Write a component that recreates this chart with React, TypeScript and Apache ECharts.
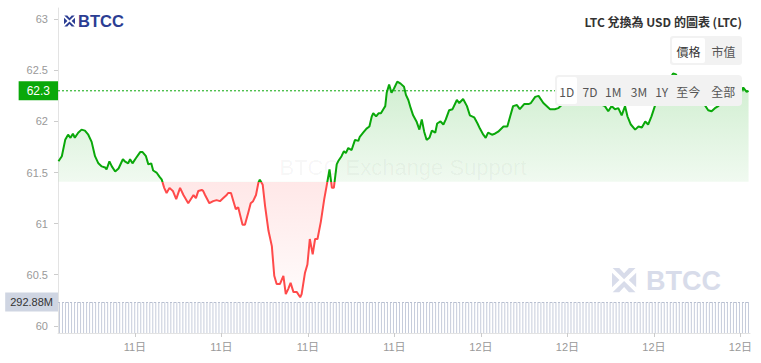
import React, { useEffect, useRef } from "react";
import * as echarts from "echarts";

// minutes since 00:00 on the 11th
const times = [
  561, 568, 575, 581, 586, 591, 595, 602, 609, 616,
  623, 630, 637, 644, 651, 658, 661, 667, 672, 679,
  686, 695, 699, 706, 710, 715, 722, 731, 736, 743,
  748, 754, 758, 765, 771, 776, 781, 786, 792, 799,
  806, 814, 821, 831, 842, 847, 852, 859, 862, 866,
  875, 883, 890, 897, 904, 911, 914, 920, 925, 930,
  935, 944, 949, 956, 961, 966, 972, 977, 980, 986,
  991, 998, 1005, 1010, 1015, 1022, 1029, 1034, 1039, 1044,
  1050, 1057, 1064, 1067, 1074, 1079, 1084, 1090, 1095, 1100,
  1107, 1114, 1119, 1125, 1130, 1134, 1140, 1143, 1150, 1155,
  1159, 1164, 1171, 1178, 1185, 1188, 1195, 1202, 1208, 1213,
  1216, 1222, 1227, 1232, 1237, 1241, 1244, 1249, 1254, 1259,
  1266, 1273, 1280, 1284, 1289, 1294, 1299, 1306, 1312, 1317,
  1322, 1327, 1333, 1338, 1345, 1349, 1356, 1362, 1367, 1374,
  1381, 1390, 1395, 1403, 1411, 1417, 1426, 1433, 1438, 1445,
  1450, 1455, 1463, 1469, 1476, 1487, 1495, 1501, 1507, 1515,
  1521, 1530, 1539, 1544, 1553, 1560, 1570, 1584, 1594, 1601,
  1608, 1615, 1630, 1646, 1663, 1677, 1688, 1698, 1705, 1712,
  1719, 1726, 1733, 1740, 1745, 1752, 1761, 1768, 1775, 1782,
  1788, 1795, 1802, 1813, 1823, 1834, 1840, 1846, 1854, 1867,
  1879, 1892, 1900, 1906, 1913, 1920, 1927, 1934, 1946, 1958,
  1971, 1979, 1986, 1993, 1997,
];

const prices = [
  61.61, 61.66, 61.82, 61.87, 61.84, 61.88, 61.84, 61.89, 61.92, 61.91,
  61.87, 61.80, 61.66, 61.59, 61.56, 61.55, 61.53, 61.61, 61.56, 61.51,
  61.54, 61.63, 61.61, 61.59, 61.63, 61.59, 61.64, 61.70, 61.70, 61.66,
  61.58, 61.59, 61.52, 61.50, 61.46, 61.43, 61.35, 61.30, 61.35, 61.32,
  61.24, 61.35, 61.28, 61.20, 61.28, 61.25, 61.32, 61.33, 61.32, 61.28,
  61.20, 61.22, 61.23, 61.22, 61.25, 61.28, 61.30, 61.30, 61.22, 61.14,
  61.16, 60.99, 60.99, 61.11, 61.20, 61.22, 61.28, 61.40, 61.43, 61.38,
  61.17, 60.93, 60.78, 60.49, 60.41, 60.41, 60.49, 60.31, 60.36, 60.42,
  60.33, 60.33, 60.28, 60.31, 60.52, 60.60, 60.85, 60.70, 60.85, 60.85,
  61.02, 61.24, 61.37, 61.53, 61.35, 61.35, 61.58, 61.61, 61.66, 61.71,
  61.69, 61.74, 61.72, 61.82, 61.81, 61.85, 61.89, 61.93, 61.95, 62.05,
  62.08, 62.05, 62.08, 62.08, 62.12, 62.15, 62.28, 62.36, 62.28, 62.32,
  62.39, 62.37, 62.34, 62.26, 62.21, 62.13, 62.06, 62.00, 61.92, 62.02,
  61.90, 61.82, 61.84, 61.91, 61.89, 61.98, 62.00, 61.97, 62.02, 62.11,
  62.12, 62.21, 62.18, 62.22, 62.15, 62.06, 62.04, 61.98, 61.93, 61.87,
  61.84, 61.89, 61.87, 61.88, 61.90, 61.95, 61.95, 62.05, 62.15, 62.16,
  62.12, 62.17, 62.17, 62.18, 62.24, 62.25, 62.18, 62.12, 62.12, 62.13,
  62.16, 62.20, 62.26, 62.30, 62.24, 62.20, 62.17, 62.15, 62.10, 62.15,
  62.12, 62.13, 62.06, 62.15, 62.05, 61.97, 61.92, 61.95, 61.94, 62.00,
  61.97, 62.05, 62.15, 62.30, 62.38, 62.42, 62.47, 62.46, 62.38, 62.30,
  62.25, 62.20, 62.17, 62.16, 62.11, 62.10, 62.13, 62.15, 62.20, 62.22,
  62.25, 62.30, 62.33, 62.29, 62.30,
];

const baseline = 61.41;

// volume in millions
const volumes = [
  292.6, 292.4, 292.8, 292.5, 292.7, 292.3, 292.6, 292.8, 292.5, 292.4,
  292.7, 292.5, 292.6, 292.8, 292.4, 292.6, 292.7, 292.5, 292.3, 292.6,
  292.8, 292.5, 292.7, 292.4, 292.6, 292.5, 292.8, 292.6, 292.4, 292.7,
  292.5, 292.6, 292.8, 292.3, 292.6, 292.7, 292.5, 292.4, 292.8, 292.6,
  292.5, 292.7, 292.6, 292.4, 292.8, 292.5, 292.6, 292.7, 292.3, 292.6,
  292.8, 292.5, 292.4, 292.7, 292.6, 292.5, 292.8, 292.6, 292.4, 292.7,
  292.5, 292.6, 292.88, 292.4, 292.6, 292.7, 292.5, 292.3, 292.8, 292.6,
  292.5, 292.7, 292.6, 292.4, 292.8, 292.5, 292.6, 292.7, 292.4, 292.6,
  292.8, 292.5, 292.4, 292.7, 292.6, 292.5, 292.8, 292.6, 292.4, 292.7,
  292.5, 292.6, 292.8, 292.3, 292.6, 292.7, 292.5, 292.4, 292.8, 292.6,
  292.5, 292.7, 292.6, 292.4, 292.8, 292.5, 292.6, 292.7, 292.3, 292.6,
  292.8, 292.5, 292.4, 292.7, 292.6, 292.5, 292.8, 292.6, 292.4, 292.7,
  292.5, 292.6, 292.8, 292.4, 292.6, 292.7, 292.5, 292.3, 292.8, 292.6,
  292.5, 292.7, 292.6, 292.4, 292.8, 292.5, 292.6, 292.7, 292.4, 292.6,
  292.8, 292.5, 292.4, 292.7, 292.6, 292.5, 292.8, 292.6, 292.4, 292.7,
  292.5, 292.6, 292.8, 292.3, 292.6, 292.7, 292.5, 292.4, 292.8, 292.6,
  292.5, 292.7, 292.6, 292.4, 292.8, 292.5, 292.6, 292.7, 292.3, 292.6,
  292.8, 292.5, 292.4, 292.7, 292.6, 292.5, 292.8, 292.6, 292.4, 292.7,
  292.5, 292.6, 292.8, 292.4, 292.6, 292.7, 292.5, 292.3, 292.8, 292.6,
  292.5, 292.7, 292.6, 292.4, 292.8, 292.5, 292.6, 292.7, 292.4, 292.6,
  292.8, 292.5, 292.4, 292.7, 292.6, 292.5, 292.8, 292.6, 292.4, 292.7,
  292.5, 292.6, 292.8, 292.3, 292.6, 292.7, 292.5, 292.4, 292.8, 292.6,
  292.5, 292.7, 292.6, 292.4, 292.8, 292.5, 292.6, 292.7, 292.3, 292.6,
];

const yTickLabels = ["60", "60.5", "61", "61.5", "62", "62.5", "63"];
const yTickStart = 60;
const yTickEnd = 63;
const yTickStep = 0.5;
const xTickLabels = ["11日", "11日", "11日", "11日", "12日", "12日", "12日", "12日"];
const xTickStart = 720;
const xTickEnd = 1980;
const xTickStep = 180;

const titleText = "LTC 兌換為 USD 的圖表 (LTC)";
const metricButtons = ["價格", "市值"];
const rangeButtons = ["1D", "7D", "1M", "3M", "1Y", "至今", "全部"];
const watermarkText = "BTCC Exchange Support";
const brandText = "BTCC";

const GREEN = "#0aa80a";
const RED = "#ff4a4a";
const FONT = '"Liberation Sans", "Noto Sans CJK TC", sans-serif';
const CJK = '"Noto Sans CJK TC", "Liberation Sans", sans-serif';

// layout
const W = 761;
const H = 363;
const GL = 58;
const GR = 11;
const GT = 8;
const GB = 30;
const X_MIN = 560;
const X_MAX = 2000;
const Y_MIN = 59.93;
const Y_MAX = 63.11;

function logoIcon(x: number, y: number, s: number, color: string, z: number) {
  const pts = [
    [[0.3, 0], [3.3, 0], [5.5, 2.4], [7.7, 0], [10.7, 0], [5.5, 5.1]],
    [[0.3, 11], [3.3, 11], [5.5, 8.6], [7.7, 11], [10.7, 11], [5.5, 5.9]],
    [[0, 2.2], [3.4, 5.5], [0, 8.8]],
    [[11, 2.2], [7.6, 5.5], [11, 8.8]],
  ];
  return {
    type: "group",
    x,
    y,
    scaleX: s,
    scaleY: s,
    z,
    children: pts.map((p) => ({
      type: "polygon",
      z,
      shape: { points: p },
      style: { fill: color },
    })),
  };
}

export default function App() {
  const ref = useRef<HTMLDivElement>(null);

  useEffect(() => {
    if (!ref.current) return;
    const chart = echarts.init(ref.current, null, { renderer: "svg" });

    const maxP = Math.max(...prices);
    const minP = Math.min(...prices);
    const f = (maxP - baseline) / (maxP - minP);
    const lastPrice = prices[prices.length - 1];
    const maxVol = Math.max(...volumes);

    const plotH = H - GT - GB;
    const plotW = W - GL - GR;
    const yPix = (v: number) => GT + ((Y_MAX - v) / (Y_MAX - Y_MIN)) * plotH;
    const xPix = (v: number) => GL + ((v - X_MIN) / (X_MAX - X_MIN)) * plotW;

    const rangeX = [566.7, 590, 613.3, 639, 661.7, 688.3, 723.3];

    const graphic: any[] = [
      {
        type: "text",
        x: 403,
        y: 167,
        z: 0,
        style: {
          text: watermarkText,
          align: "center",
          verticalAlign: "middle",
          fontSize: 22,
          fontFamily: FONT,
          fill: "rgba(0,0,0,0.045)",
        },
      },
      logoIcon(612, 268, 2.2, "#d8dcea", 0),
      {
        type: "text",
        x: 646,
        y: 281,
        z: 0,
        style: {
          text: brandText,
          align: "left",
          verticalAlign: "middle",
          fontSize: 27,
          fontWeight: "bold",
          fontFamily: FONT,
          fill: "#d8dcea",
        },
      },
      logoIcon(64, 15.5, 1, "#2b3d93", 100),
      {
        type: "text",
        x: 78,
        y: 21,
        z: 100,
        style: {
          text: brandText,
          align: "left",
          verticalAlign: "middle",
          fontSize: 16.5,
          fontWeight: "bold",
          fontFamily: FONT,
          fill: "#2b3d93",
        },
      },
      {
        type: "text",
        x: 742,
        y: 21,
        z: 100,
        style: {
          text: titleText,
          align: "right",
          verticalAlign: "middle",
          fontSize: 12,
          fontWeight: "bold",
          fontFamily: CJK,
          fill: "#333",
        },
      },
      {
        type: "rect",
        z: 100,
        shape: { x: 670, y: 36, width: 72, height: 29, r: 3 },
        style: { fill: "#f2f2f2" },
      },
      {
        type: "rect",
        z: 101,
        shape: { x: 672, y: 38, width: 33, height: 25, r: 2 },
        style: { fill: "#ffffff" },
      },
      ...metricButtons.map((t, i) => ({
        type: "text",
        x: i === 0 ? 688.5 : 723.5,
        y: 51,
        z: 102,
        style: {
          text: t,
          align: "center",
          verticalAlign: "middle",
          fontSize: 12,
          fontFamily: CJK,
          fill: i === 0 ? "#333" : "#555",
        },
      })),
      {
        type: "rect",
        z: 100,
        shape: { x: 555, y: 75, width: 187, height: 31, r: 4 },
        style: { fill: "#f2f2f2" },
      },
      {
        type: "rect",
        z: 101,
        shape: { x: 557, y: 77, width: 20, height: 27, r: 2 },
        style: { fill: "#ffffff" },
      },
      ...rangeButtons.map((t, i) => ({
        type: "text",
        x: rangeX[i],
        y: 91.5,
        z: 102,
        style: {
          text: t,
          align: "center",
          verticalAlign: "middle",
          fontSize: 12,
          fontFamily: CJK,
          fill: "#555",
        },
      })),
    ];

    const option: any = {
      animation: false,
      textStyle: { fontFamily: FONT },
      grid: [
        { left: GL, right: GR, top: GT, bottom: GB },
        { left: GL, right: GR, top: 302, bottom: GB },
        { left: GL, right: GR, top: yPix(yTickEnd), bottom: H - yPix(yTickStart) },
        { left: xPix(xTickStart), right: W - xPix(xTickEnd), top: GT, bottom: GB },
      ],
      xAxis: [
        {
          type: "value",
          gridIndex: 0,
          min: X_MIN,
          max: X_MAX,
          splitLine: { show: false },
          axisLine: { show: true, lineStyle: { color: "#e3e3e3" } },
          axisTick: { show: false },
          axisLabel: { show: false },
        },
        {
          type: "category",
          gridIndex: 1,
          data: volumes.map((_, i) => i),
          show: false,
        },
        { type: "value", gridIndex: 2, min: 0, max: 1, show: false },
        {
          type: "value",
          gridIndex: 3,
          min: xTickStart,
          max: xTickEnd,
          interval: xTickStep,
          splitLine: { show: false },
          axisLine: { show: false },
          axisTick: { show: true, length: 4, lineStyle: { color: "#ccc" } },
          axisLabel: {
            formatter: (v: number) =>
              xTickLabels[Math.round((v - xTickStart) / xTickStep)] ?? "",
            color: "#999",
            fontSize: 11,
            margin: 8,
          },
        },
      ],
      yAxis: [
        {
          type: "value",
          gridIndex: 0,
          min: Y_MIN,
          max: Y_MAX,
          splitLine: { show: false },
          axisLine: { show: true, lineStyle: { color: "#e3e3e3" } },
          axisTick: { show: false },
          axisLabel: { show: false },
        },
        {
          type: "value",
          gridIndex: 1,
          min: 0,
          max: maxVol,
          show: false,
        },
        {
          type: "value",
          gridIndex: 2,
          min: yTickStart,
          max: yTickEnd,
          interval: yTickStep,
          splitLine: { show: false },
          axisLine: { show: false },
          axisTick: { show: true, length: 4, lineStyle: { color: "#ccc" } },
          axisLabel: {
            formatter: (v: number) =>
              yTickLabels[Math.round((v - yTickStart) / yTickStep)] ?? "",
            color: "#999",
            fontSize: 11,
            margin: 10,
          },
        },
        { type: "value", gridIndex: 3, min: 0, max: 1, show: false },
      ],
      visualMap: {
        type: "piecewise",
        show: false,
        seriesIndex: 0,
        dimension: 1,
        pieces: [
          { gt: baseline, lte: 100, color: GREEN },
          { gt: 0, lte: baseline, color: RED },
        ],
        outOfRange: { color: GREEN },
      },
      series: [
        {
          type: "line",
          xAxisIndex: 0,
          yAxisIndex: 0,
          data: times.map((t, i) => [t, prices[i]]),
          showSymbol: false,
          symbol: "none",
          z: 5,
          lineStyle: { width: 2 },
          areaStyle: {
            origin: baseline,
            opacity: 1,
            color: new echarts.graphic.LinearGradient(0, 0, 0, 1, [
              { offset: 0, color: "rgba(10,168,10,0.2)" },
              { offset: f, color: "rgba(10,168,10,0.06)" },
              { offset: f, color: "rgba(255,74,74,0.13)" },
              { offset: 1, color: "rgba(255,74,74,0.02)" },
            ]),
          },
        },
        {
          // last-price reference line across the plot
          type: "line",
          xAxisIndex: 0,
          yAxisIndex: 0,
          data: [
            [X_MIN, lastPrice],
            [X_MAX, lastPrice],
          ],
          showSymbol: false,
          symbol: "none",
          silent: true,
          z: 4,
          itemStyle: { color: GREEN },
          lineStyle: { color: GREEN, type: [2, 2], width: 1 },
          markLine: {
            silent: true,
            symbol: ["none", "none"],
            data: [{ yAxis: lastPrice }],
            lineStyle: { color: "rgba(0,0,0,0)", width: 1, opacity: 1 },
            label: {
              show: true,
              position: "start",
              distance: 0,
              formatter: String(lastPrice),
              color: "#fff",
              opacity: 1,
              backgroundColor: GREEN,
              padding: [4, 8, 3, 8],
              fontSize: 12,
              fontFamily: FONT,
            },
          },
        },
        {
          type: "bar",
          xAxisIndex: 1,
          yAxisIndex: 1,
          data: volumes,
          barWidth: 1,
          itemStyle: { color: "#c6ccdb" },
          z: 3,
          markLine: {
            silent: true,
            symbol: ["none", "none"],
            data: [{ yAxis: maxVol }],
            lineStyle: { color: "#b9c0d0", type: [2, 2], width: 1 },
            label: {
              position: "start",
              distance: 0,
              formatter: maxVol.toFixed(2) + "M",
              color: "#333",
              backgroundColor: "#cfd5e2",
              padding: [4, 5, 4, 5],
              fontSize: 11,
              fontFamily: FONT,
            },
          },
        },
      ],
      graphic,
    };

    chart.setOption(option);
    return () => chart.dispose();
  }, []);

  return (
    <div
      ref={ref}
      style={{ position: "absolute", left: 0, top: 0, width: W, height: H }}
    />
  );
}
